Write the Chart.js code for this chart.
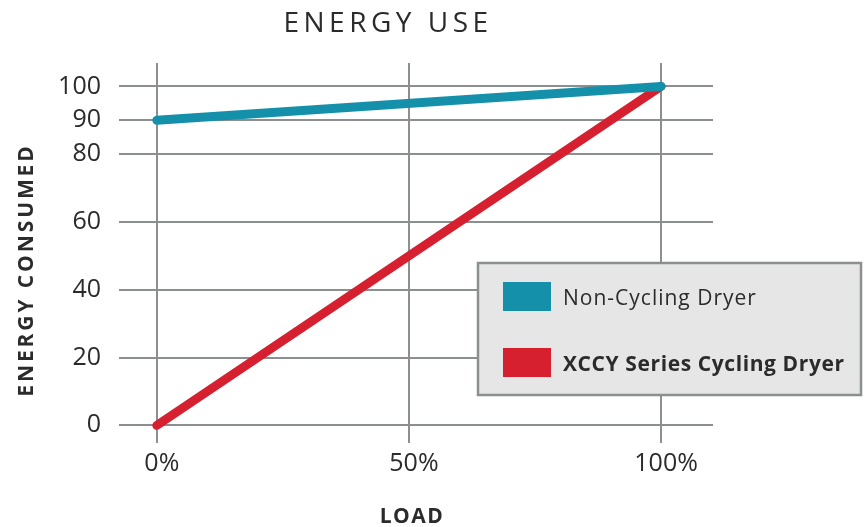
<!DOCTYPE html>
<html><head><meta charset="utf-8">
<script src="https://cdn.jsdelivr.net/npm/chart.js@4/dist/chart.umd.min.js"></script>
<style>html,body{margin:0;padding:0;background:#fff;}#wrap{width:867px;height:527px;}</style>
</head><body><div id="wrap"><canvas id="c" width="867" height="527"></canvas></div>
<script>
const loadPct = [0, 100];
const nonCycling = [90, 100];
const cycling = [0, 100];
const seriesNames = ['Non-Cycling Dryer', 'XCCY Series Cycling Dryer'];
const xTicks = [0, 50, 100];
const yTicks = [0, 20, 40, 60, 80, 90, 100];
const chartTitle = 'ENERGY USE';
const xTitle = 'LOAD';
const yTitle = 'ENERGY CONSUMED';

const TEAL = '#1590ab', RED = '#d62030', GRID = '#8c8f8f', TXT = '#2b2b2b';
const FONT = '"Open Sans", sans-serif';

const textPlugin = {
  id: 'texts',
  afterDraw(chart) {
    const ctx = chart.ctx;
    ctx.save();
    ctx.fillStyle = TXT;
    // title
    ctx.font = '28px ' + FONT;
    ctx.letterSpacing = '4.5px';
    ctx.textAlign = 'center';
    ctx.textBaseline = 'alphabetic';
    ctx.fillText(chartTitle, 388, 32);
    // x title
    ctx.font = 'bold 21px ' + FONT;
    ctx.letterSpacing = '1.5px';
    ctx.fillText(xTitle, 412, 523);
    // y title
    ctx.save();
    ctx.translate(33, 270);
    ctx.rotate(-Math.PI / 2);
    ctx.letterSpacing = '2.9px';
    ctx.fillText(yTitle, 0, 0);
    ctx.restore();
    // legend box
    ctx.letterSpacing = '0px';
    ctx.fillStyle = '#e6e6e6';
    ctx.fillRect(478, 263, 383, 132);
    ctx.strokeStyle = '#8c8f8f';
    ctx.lineWidth = 2.5;
    ctx.strokeRect(478, 263, 383, 132);
    const ds = chart.data.datasets;
    const rows = [[282, 305, '', '1px'], [348, 371, 'bold ', '0.6px']];
    ds.forEach((d, i) => {
      ctx.fillStyle = d.borderColor;
      ctx.fillRect(503, rows[i][0], 48, 29);
      ctx.fillStyle = TXT;
      ctx.textAlign = 'left';
      ctx.font = rows[i][2] + '21px ' + FONT;
      ctx.letterSpacing = rows[i][3];
      ctx.fillText(d.label, 563, rows[i][1]);
    });
    ctx.restore();
  }
};

new Chart(document.getElementById('c'), {
  type: 'line',
  data: {
    datasets: [
      { label: seriesNames[0], data: loadPct.map((x, i) => ({ x, y: nonCycling[i] })), borderColor: TEAL, backgroundColor: TEAL },
      { label: seriesNames[1], data: loadPct.map((x, i) => ({ x, y: cycling[i] })), borderColor: RED, backgroundColor: RED }
    ]
  },
  options: {
    responsive: false,
    animation: false,
    layout: { padding: { top: 63, right: 154, left: 0, bottom: 0 } },
    elements: {
      line: { borderWidth: 9, borderCapStyle: 'round', borderJoinStyle: 'round', tension: 0 },
      point: { radius: 0, hoverRadius: 0 }
    },
    plugins: { legend: { display: false }, title: { display: false }, tooltip: { enabled: false } },
    scales: {
      x: {
        type: 'linear', min: -7.5, max: 110.3,
        afterBuildTicks: s => { s.ticks = xTicks.map(v => ({ value: v })); },
        afterFit: s => { s.height = 84; },
        grid: { color: GRID, lineWidth: 2, drawTicks: false },
        border: { display: false },
        ticks: { callback: v => v + '%', font: { family: FONT, size: 25 }, color: TXT, padding: 6, labelOffset: 5, maxRotation: 0 }
      },
      y: {
        type: 'linear', min: -5.2, max: 106.9,
        afterBuildTicks: s => { s.ticks = yTicks.map(v => ({ value: v })); },
        afterFit: s => { s.width = 119; },
        grid: { color: GRID, lineWidth: 2, drawTicks: false },
        border: { display: false },
        ticks: { font: { family: FONT, size: 25 }, color: TXT, padding: 18 }
      }
    }
  },
  plugins: [textPlugin]
});
</script></body></html>
